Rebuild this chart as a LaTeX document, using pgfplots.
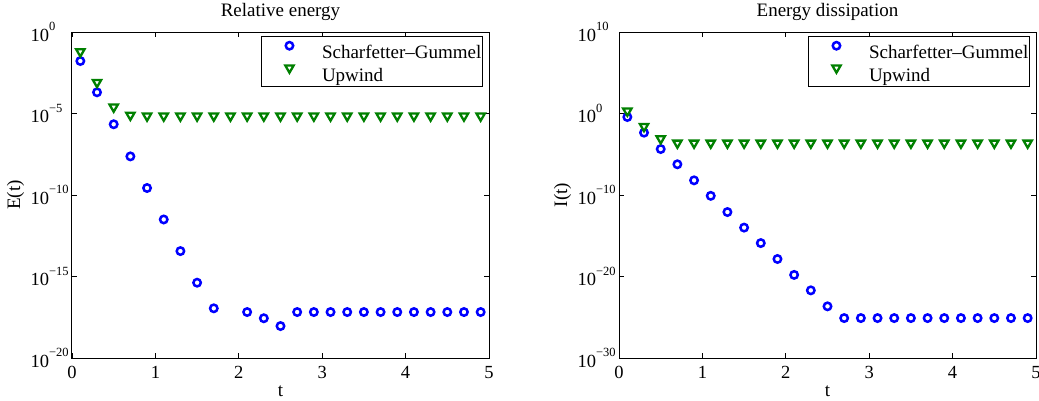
\documentclass[border=0pt]{standalone}
\usepackage{fontspec}
\setmainfont{Liberation Serif}
\usepackage{pgfplots}
\pgfplotsset{compat=1.18}
\definecolor{mgreen}{rgb}{0,0.5,0}
\newcommand\tf{\fontsize{18.5}{22}\selectfont}
\newcommand\lf{\fontsize{19}{23}\selectfont}
\newcommand\pw[1]{10\rlap{\raisebox{0.55em}{\fontsize{12.5}{13}\selectfont #1}}}
\pgfplotsset{
 every axis title shift=0pt,
 every axis/.append style={
  scale only axis, width=417pt, height=326pt,
  xmin=0, xmax=5,
  xtick={0,1,2,3,4,5}, xticklabels={0,1,2,3,4,5},
  tick align=inside, major tick length=5pt,
  axis line style={line width=1pt},
  tick style={black, line width=0.8pt},
  tick label style={font=\tf},
  xticklabel style={anchor=north, inner sep=0pt, yshift=-8pt},
  yticklabel style={anchor=east, inner sep=0pt, xshift=-22.7pt},
  xlabel style={font=\lf, at={(axis description cs:0.5,0)}, anchor=base, yshift=-38pt},
  ylabel style={font=\lf, at={(axis description cs:-0.1247,0.5)}, anchor=base},
  title style={font=\lf, at={(axis description cs:0.5,1)}, anchor=base, yshift=15.3pt},
  legend style={at={(axis description cs:0.985,0.988)}, anchor=north east, draw=black, line width=0.8pt, font=\lf, inner xsep=1pt, inner ysep=5.7pt, row sep=6.6pt, column sep=0pt, nodes={inner sep=0pt, text height=15pt, text depth=0pt}},
  legend cell align=left,
 },
 legend image code/.code={\path (0pt,0pt) (57pt,0pt); \draw[#1] plot coordinates {(25.7pt,5.7pt)};},
 sgp/.style={only marks, mark=o, blue, mark size=3.7pt, line width=2.5pt},
 uwp/.style={only marks, mark=triangle*, mgreen, mark options={rotate=180, fill=white, draw=mgreen}, mark size=4.8pt, line width=2.3pt},
}
\begin{document}
\begin{tikzpicture}
\useasboundingbox (-72pt,-42pt) rectangle (967pt,358pt);
\begin{semilogyaxis}[at={(0pt,0pt)}, anchor=south west,
  ymin=1e-20, ymax=1, yminorticks=false,
  ytick={1e-20,1e-15,1e-10,1e-5,1},
  yticklabels={\pw{−20},\pw{−15},\pw{−10},\pw{−5},\pw{0}},
  xlabel={t}, ylabel={E(t)}, title={Relative energy}]
\addplot[sgp] coordinates {
(0.1,1.66e-2) (0.3,2.0e-4) (0.5,2.19e-6) (0.7,2.34e-8) (0.9,2.69e-10)
(1.1,3.16e-12) (1.3,3.63e-14) (1.5,4.17e-16) (1.7,1.12e-17)
(2.1,6.61e-18) (2.3,2.75e-18) (2.5,9.12e-19) (2.7,6.61e-18) (2.9,6.61e-18)
(3.1,6.61e-18) (3.3,6.61e-18) (3.5,6.61e-18) (3.7,6.61e-18) (3.9,6.61e-18)
(4.1,6.61e-18) (4.3,6.61e-18) (4.5,6.61e-18) (4.7,6.61e-18) (4.9,6.61e-18)};
\addlegendentry{Scharfetter–Gummel}
\addplot[uwp] coordinates {
(0.1,6.17e-2) (0.3,8.13e-4) (0.5,2.51e-5) (0.7,7.94e-6) (0.9,7.08e-6)
(1.1,7.08e-6) (1.3,7.08e-6) (1.5,7.08e-6) (1.7,7.08e-6) (1.9,7.08e-6)
(2.1,7.08e-6) (2.3,7.08e-6) (2.5,7.08e-6) (2.7,7.08e-6) (2.9,7.08e-6)
(3.1,7.08e-6) (3.3,7.08e-6) (3.5,7.08e-6) (3.7,7.08e-6) (3.9,7.08e-6)
(4.1,7.08e-6) (4.3,7.08e-6) (4.5,7.08e-6) (4.7,7.08e-6) (4.9,7.08e-6)};
\addlegendentry{Upwind}
\end{semilogyaxis}
\begin{semilogyaxis}[at={(547pt,0pt)}, anchor=south west,
  ymin=1e-30, ymax=1e10, yminorticks=false,
  ytick={1e-30,1e-20,1e-10,1,1e10},
  yticklabels={\pw{−30},\pw{−20},\pw{−10},\pw{0},\pw{10}},
  xlabel={t}, ylabel={I(t)}, title={Energy dissipation}]
\addplot[sgp] coordinates {
(0.1,0.372) (0.3,4.47e-3) (0.5,4.37e-5) (0.7,5.89e-7) (0.9,6.31e-9)
(1.1,7.94e-11) (1.3,8.13e-13) (1.5,1.0e-14) (1.7,1.26e-16) (1.9,1.41e-18)
(2.1,1.58e-20) (2.3,2.0e-22) (2.5,2.19e-24) (2.7,7.94e-26) (2.9,7.94e-26)
(3.1,7.94e-26) (3.3,7.94e-26) (3.5,7.94e-26) (3.7,7.94e-26) (3.9,7.94e-26)
(4.1,7.94e-26) (4.3,7.94e-26) (4.5,7.94e-26) (4.7,7.94e-26) (4.9,7.94e-26)};
\addlegendentry{Scharfetter–Gummel}
\addplot[uwp] coordinates {
(0.1,2.04) (0.3,2.63e-2) (0.5,8.13e-4) (0.7,2.40e-4) (0.9,2.40e-4)
(1.1,2.40e-4) (1.3,2.40e-4) (1.5,2.40e-4) (1.7,2.40e-4) (1.9,2.40e-4)
(2.1,2.40e-4) (2.3,2.40e-4) (2.5,2.40e-4) (2.7,2.40e-4) (2.9,2.40e-4)
(3.1,2.40e-4) (3.3,2.40e-4) (3.5,2.40e-4) (3.7,2.40e-4) (3.9,2.40e-4)
(4.1,2.40e-4) (4.3,2.40e-4) (4.5,2.40e-4) (4.7,2.40e-4) (4.9,2.40e-4)};
\addlegendentry{Upwind}
\end{semilogyaxis}
\end{tikzpicture}
\end{document}
